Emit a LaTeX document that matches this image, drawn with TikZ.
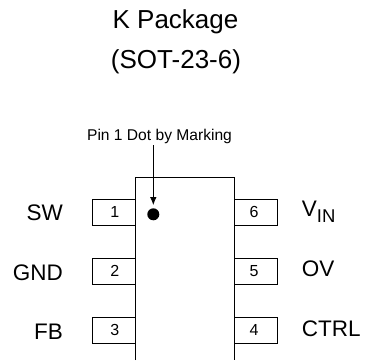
\documentclass[tikz,border=0pt]{standalone}
\usepackage{fontspec}
\setmainfont{Liberation Sans}
\usetikzlibrary{arrows.meta}
\newcommand{\digL}[1]{\hspace*{2pt}\raisebox{-1pt}{#1}}
\newcommand{\digR}[1]{\hspace*{-4pt}\raisebox{-1pt}{#1}}
\tikzset{
  x=1pt,y=-1pt,
  pinbox/.style={draw=black,line width=0.85pt,fill=white,minimum width=42.3pt,minimum height=25.5pt,inner sep=0pt,font=\fontsize{16}{18}\selectfont},
  pinlabel/.style={inner sep=0pt,font=\fontsize{22.5}{26}\selectfont},
  titletext/.style={inner sep=0pt,anchor=base,font=\fontsize{26}{30}\selectfont},
}
\begin{document}
\begin{tikzpicture}
\useasboundingbox (0,0) rectangle (365,360);
\coordinate (bl) at (135,360);
\coordinate (tl) at (135,177.7);
\coordinate (tr) at (234.8,177.7);
\coordinate (br) at (234.8,360);
\draw[line width=0.85pt] (bl) -- (tl) -- (tr) -- (br);
\node[pinbox] (p1) at (113.9,212.4) {\digL{1}};
\node[pinbox] (p2) at (113.9,271.4) {\digL{2}};
\node[pinbox] (p3) at (113.9,330.2) {\digL{3}};
\node[pinbox] (p6) at (256,212.4) {\digR{6}};
\node[pinbox] (p5) at (256,271.4) {\digR{5}};
\node[pinbox] (p4) at (256,330.2) {\digR{4}};
\node[titletext] (t1) at (175.5,28) {K Package};
\node[titletext] (t2) at (176,68) {(SOT-23-6)};
\node[inner sep=0pt,anchor=base,font=\fontsize{15.6}{18}\selectfont] (mark) at (159.5,140.7) {Pin 1 Dot by Marking};
\node[circle,fill=black,inner sep=0pt,minimum size=12pt] (dot) at (153.3,214.3) {};
\coordinate (markfoot) at (153.3,145);
\draw[-{Latex[length=8pt,width=6.5pt]},line width=0.85pt,shorten >=3pt] (markfoot) -- (dot.north);
\node[pinlabel,anchor=base east] (sw) at (63,220) {SW};
\node[pinlabel,anchor=base east] (gnd) at (63,280) {GND};
\node[pinlabel,anchor=base east] (fb) at (63,339) {FB};
\node[pinlabel,anchor=base west] (vin) at (301.7,216.7) {V\raisebox{-6pt}{\fontsize{18.5}{20}\selectfont IN}};
\node[pinlabel,anchor=base west] (ov) at (301.7,276) {OV};
\node[pinlabel,anchor=base west] (ctrl) at (301.7,336.7) {CTRL};
\end{tikzpicture}
\end{document}
